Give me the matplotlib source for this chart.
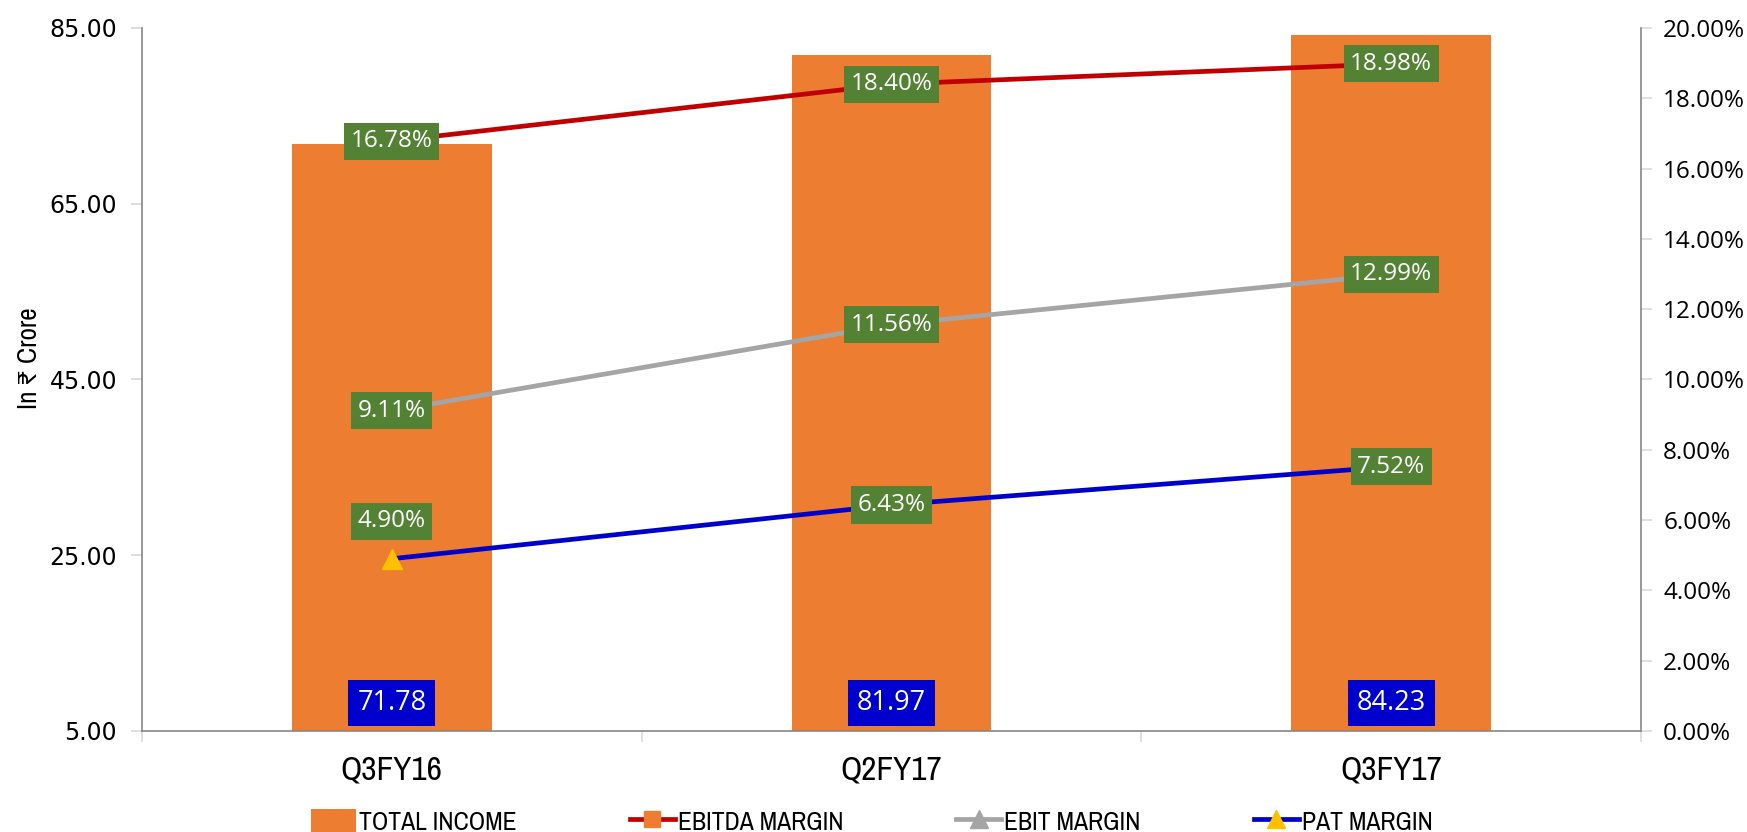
import matplotlib
matplotlib.use("Agg")
import matplotlib.pyplot as plt
from matplotlib import font_manager
from matplotlib.lines import Line2D
from matplotlib.patches import Patch
from matplotlib.ticker import FixedLocator, FuncFormatter

# ---------------- data ----------------
categories = ["Q3FY16", "Q2FY17", "Q3FY17"]
total_income = [71.78, 81.97, 84.23]
ebitda_margin = [16.78, 18.40, 18.98]
ebit_margin = [9.11, 11.56, 12.99]
pat_margin = [4.90, 6.43, 7.52]
left_ticks = [5, 25, 45, 65, 85]
right_ticks = [0, 2, 4, 6, 8, 10, 12, 14, 16, 18, 20]
legend_labels = ["TOTAL INCOME", "EBITDA MARGIN", "EBIT MARGIN", "PAT MARGIN"]
y_label = "In \u20b9 Crore"

# ---------------- fonts ----------------
fl = font_manager.fontManager.ttflist
names = {f.name for f in fl}
narrow_family = None
narrow_stretch = "normal"
for cand in ["Liberation Sans Narrow", "Arial Narrow"]:
    if cand in names:
        narrow_family = cand
        break
if narrow_family is None:
    for f in fl:
        if "Narrow" in f.name or "Condensed" in f.name:
            narrow_family = f.name
            break
if narrow_family is None:
    for f in fl:
        if f.name == "DejaVu Sans" and str(f.stretch) in ("condensed", "semi-condensed", "500", "300"):
            narrow_family = "DejaVu Sans"
            narrow_stretch = "condensed"
            break
if narrow_family is None:
    narrow_family = "Liberation Sans"
NARROW = [narrow_family, "DejaVu Sans"]
SEGOE = ["Open Sans", "DejaVu Sans"]

ORANGE = "#ED7D31"
RED = "#C00000"
GRAY = "#A5A5A5"
BLUE = "#0000CC"
GOLD = "#FFC000"
GREEN = "#548235"
SPINE = "#868686"

fig = plt.figure(figsize=(17.47, 8.32), dpi=100)
ax = fig.add_axes([0.0813, 0.1214, 0.858, 0.845])
ax2 = ax.twinx()

x = list(range(len(categories)))

ax.bar(x, total_income, width=0.4, color=ORANGE, zorder=1)
ax.set_xlim(-0.5, len(categories) - 0.5)
ax.set_ylim(5, 85)
ax.set_yticks(left_ticks)
ax.yaxis.set_major_formatter(FuncFormatter(lambda v, p: f"{v:.2f}"))
for t in ax.get_yticklabels():
    t.set_fontfamily(["DejaVu Sans"])
    t.set_fontsize(17)
ax.set_ylabel(y_label, family=NARROW, fontstretch=narrow_stretch, fontsize=19.5, labelpad=8)
ax.yaxis.set_label_coords(-0.067, 0.53)

# x axis: labels at centres, ticks at boundaries
ax.set_xticks(x)
ax.set_xticklabels(categories, family=NARROW, fontstretch=narrow_stretch, fontsize=24)
ax.tick_params(axis="x", which="major", length=0, pad=18)
ax.xaxis.set_minor_locator(FixedLocator([-0.5, 0.5, 1.5, 2.5]))
ax.tick_params(axis="x", which="minor", length=8, color="#D9D9D9", width=1.2)
ax.tick_params(axis="y", length=8, color="#D9D9D9", width=1.2, pad=10)

for s in ["top", "right"]:
    ax.spines[s].set_visible(False)
ax.spines["left"].set_color(SPINE)
ax.spines["bottom"].set_color(SPINE)
ax.spines["left"].set_linewidth(1.2)
ax.spines["bottom"].set_linewidth(1.2)

# right axis
ax2.set_ylim(0, 20)
ax2.set_yticks(right_ticks)
ax2.yaxis.set_major_formatter(FuncFormatter(lambda v, p: f"{v:.2f}%"))
for t in ax2.get_yticklabels():
    t.set_fontfamily(SEGOE)
    t.set_fontsize(17.5)
ax2.tick_params(axis="y", length=8, color="#D9D9D9", width=1.2, pad=8)
for s in ["top", "left", "bottom"]:
    ax2.spines[s].set_visible(False)
ax2.spines["right"].set_color(SPINE)
ax2.spines["right"].set_linewidth(1.2)

# lines
lw = 3.4
ax2.plot(x, ebitda_margin, color=RED, lw=lw, marker="s", ms=11,
         mfc=ORANGE, mec=ORANGE, zorder=3, solid_capstyle="butt")
ax2.plot(x, ebit_margin, color=GRAY, lw=lw, marker="^", ms=13,
         mfc=GRAY, mec=GRAY, zorder=3, solid_capstyle="butt")
ax2.plot(x, pat_margin, color=BLUE, lw=lw, marker="^", ms=14,
         mfc=GOLD, mec=GOLD, zorder=3, solid_capstyle="butt")

# percentage labels
box = dict(boxstyle="square,pad=0.27", fc=GREEN, ec="none")
for series in (ebitda_margin, ebit_margin):
    for xi, v in zip(x, series):
        ax2.annotate(f"{v:.2f}%", (xi, v), ha="center", va="center",
                     color="white", fontsize=17.5, family=SEGOE,
                     bbox=box, zorder=5)
for i, (xi, v) in enumerate(zip(x, pat_margin)):
    off = 27 if i == 0 else 0
    ax2.annotate(f"{v:.2f}%", (xi, v), xytext=(0, off), textcoords="offset points",
                 ha="center", va="center", color="white", fontsize=17.5,
                 family=SEGOE, bbox=box, zorder=5)

# bar value labels (inside base)
bbox_blue = dict(boxstyle="square,pad=0.33", fc=BLUE, ec="none")
for xi, v in zip(x, total_income):
    ax.annotate(f"{v:.2f}", (xi, 5), xytext=(0, 20), textcoords="offset points",
                ha="center", va="center", color="white", fontsize=19.5,
                family=SEGOE, bbox=bbox_blue, zorder=5)

# legend
handles = [
    Patch(facecolor=ORANGE, edgecolor="none"),
    Line2D([], [], color=RED, lw=lw, marker="s", ms=11, mfc=ORANGE, mec=ORANGE),
    Line2D([], [], color=GRAY, lw=lw, marker="^", ms=13, mfc=GRAY, mec=GRAY),
    Line2D([], [], color=BLUE, lw=lw, marker="^", ms=13, mfc=GOLD, mec=GOLD),
]
fig.legend(handles, legend_labels, loc="center", ncol=4,
           bbox_to_anchor=(0.499, 0.013), frameon=False,
           prop={"family": NARROW, "size": 18.5, "stretch": narrow_stretch},
           handlelength=1.75, handleheight=1.05, handletextpad=0.12,
           columnspacing=4.4, borderpad=0)

fig.savefig("out.png", dpi=100)
